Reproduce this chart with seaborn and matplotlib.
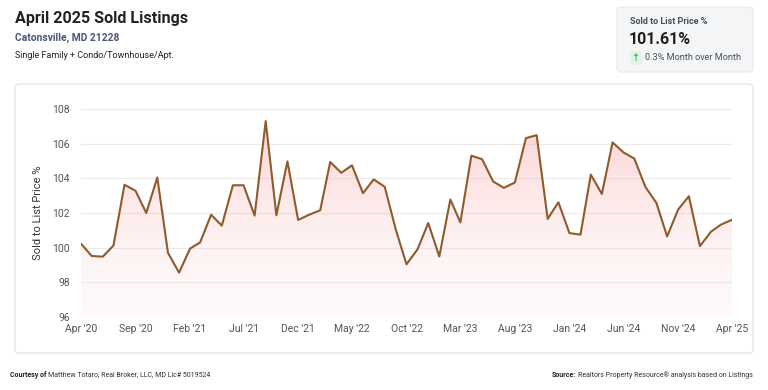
import matplotlib
matplotlib.use("Agg")
import matplotlib.pyplot as plt
import numpy as np
import pandas as pd
import seaborn as sns
from matplotlib.colors import LinearSegmentedColormap
from matplotlib.patches import FancyBboxPatch

# monthly sold-to-list price %, Apr 2020 .. Apr 2025
months = pd.date_range("2020-04-01", "2025-04-01", freq="MS")
sold_to_list = [
    100.23, 99.52, 99.48, 100.12, 103.63, 103.28, 102.00, 104.05, 99.70, 98.56,
    99.95, 100.30, 101.90, 101.27, 103.60, 103.60, 101.85, 107.30, 101.87, 104.98,
    101.60, 101.90, 102.16, 104.94, 104.32, 104.75, 103.14, 103.94, 103.51, 101.04,
    99.04, 99.91, 101.42, 99.49, 102.78, 101.46, 105.31, 105.10, 103.82, 103.45,
    103.76, 106.32, 106.49, 101.66, 102.62, 100.84, 100.75, 104.21, 103.10, 106.07,
    105.49, 105.14, 103.51, 102.58, 100.65, 102.20, 102.97, 100.09, 100.92, 101.33,
    101.61,
]
tick_months = pd.date_range("2020-04-01", "2025-04-01", freq="5MS")
tick_labels = [d.strftime("%b '%y") for d in tick_months]
y_ticks = [96, 98, 100, 102, 104, 106, 108]

df = pd.DataFrame({"month": months, "pct": sold_to_list})

sns.set_style("white")
plt.rcParams["font.family"] = ["Roboto", "DejaVu Sans"]

fig = plt.figure(figsize=(7.68, 3.90), dpi=100)
fig.patch.set_facecolor("white")

# chart panel (behind the axes)
panel = FancyBboxPatch((15 / 768, 1 - 353 / 390), (753 - 15) / 768, (353 - 84) / 390,
                       boxstyle="round,pad=0,rounding_size=0.008",
                       transform=fig.transFigure, facecolor="white",
                       edgecolor="#e3e5ea", linewidth=0.9, zorder=-5)
fig.patches.append(panel)

ax = fig.add_axes([81 / 768, 1 - 317 / 390, (732 - 81) / 768, (317 - 109) / 390])
ax.set_facecolor("none")
ax.set_zorder(2)

xnum = matplotlib.dates.date2num(df["month"])
ax.set_xlim(xnum[0], xnum[-1])
ax.set_ylim(96, 108)

# gradient fill under the line
fill = ax.fill_between(df["month"], df["pct"], 96, facecolor="none", edgecolor="none")
cmap = LinearSegmentedColormap.from_list("fade", [(1, 0.9, 0.9, 0.15), (0.97, 0.58, 0.58, 0.42)])
grad = np.linspace(0, 1, 256).reshape(-1, 1)
img = ax.imshow(grad, cmap=cmap, aspect="auto", origin="lower",
                extent=[xnum[0], xnum[-1], 96, 108], zorder=1)
img.set_clip_path(fill.get_paths()[0], transform=ax.transData)

sns.lineplot(data=df, x="month", y="pct", color="#8f5a2c", linewidth=1.5, ax=ax, zorder=3)

ax.set_yticks(y_ticks)
ax.set_xticks(tick_months)
ax.set_xticklabels(tick_labels)
ax.grid(axis="y", color="#ebebeb", linewidth=0.8)
ax.set_axisbelow(True)
for s in ax.spines.values():
    s.set_visible(False)
ax.tick_params(axis="both", length=0, labelsize=7.5, labelcolor="#555555")
ax.tick_params(axis="y", pad=8)
ax.tick_params(axis="x", pad=5)
ax.set_xlabel("")
ax.set_ylabel("Sold to List Price %", fontsize=8, color="#333333", labelpad=7)

# titles
fig.text(15 / 768, 1 - 19 / 390, "April 2025 Sold Listings", fontsize=11.6,
         fontweight="bold", color="#222222", va="center")
fig.text(15 / 768, 1 - 38 / 390, "Catonsville, MD 21228", fontsize=7.4,
         fontweight="bold", color="#4b5575", va="center")
fig.text(15 / 768, 1 - 56 / 390, "Single Family + Condo/Townhouse/Apt.", fontsize=6.5,
         color="#222222", va="center")

# stat card
card = FancyBboxPatch((617 / 768, 1 - 72 / 390), (753 - 617) / 768, (72 - 7) / 390,
                      boxstyle="round,pad=0,rounding_size=0.008",
                      transform=fig.transFigure, facecolor="#f4f5f7",
                      edgecolor="#e6e8ec", linewidth=0.8)
fig.patches.append(card)
fig.text(630 / 768, 1 - 21 / 390, "Sold to List Price %", fontsize=6.5,
         fontweight="bold", color="#4a4f5c", va="center")
fig.text(629 / 768, 1 - 40 / 390, "101.61%", fontsize=11.5,
         fontweight="bold", color="#1f1f1f", va="center")
fig.text(632 / 768, 1 - 58 / 390, "\u2191", fontsize=7, color="#2e9e5b", va="center",
         ha="left", family=["DejaVu Sans"],
         bbox=dict(boxstyle="round,pad=0.15", facecolor="#dff3e6", edgecolor="none"))
fig.text(645 / 768, 1 - 58 / 390, "0.3% Month over Month", fontsize=6.6,
         color="#4a4f5c", va="center")

# footer: bold lead-in followed by plain text, placed by measured width
renderer = fig.canvas.get_renderer()
foot_y = 1 - 375 / 390
foot_size = 5.0


def lead_text(x_px, bold, rest):
    a = fig.text(x_px / 768, foot_y, bold, fontsize=foot_size, fontweight="bold",
                 color="#222222", va="center")
    w = a.get_window_extent(renderer).width
    fig.text((x_px + w + 2) / 768, foot_y, rest, fontsize=foot_size,
             color="#333333", va="center")


lead_text(10, "Courtesy of", "Matthew Totaro, Real Broker, LLC, MD Lic# 5019524")
src_rest = "Realtors Property Resource\u00ae analysis based on Listings"
probe = fig.text(0, 0, "Source:", fontsize=foot_size, fontweight="bold")
w_src = probe.get_window_extent(renderer).width
probe.remove()
probe = fig.text(0, 0, src_rest, fontsize=foot_size)
w_rest = probe.get_window_extent(renderer).width
probe.remove()
lead_text(753 - w_rest - w_src - 2, "Source:", src_rest)

fig.savefig("out.png", dpi=100, facecolor="white")
